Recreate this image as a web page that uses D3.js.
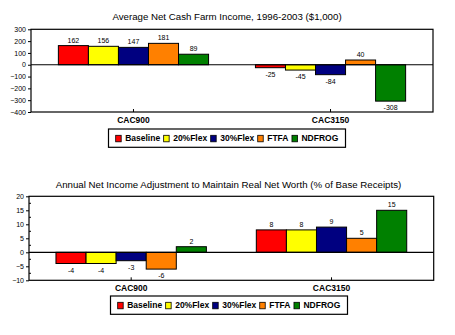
<!DOCTYPE html>
<html>
<head>
<meta charset="utf-8">
<script src="https://cdn.jsdelivr.net/npm/d3@7"></script>
<style>
  body { margin: 0; background: #fff; }
  svg { display: block; }
  text { font-family: "Liberation Sans", Arial, sans-serif; fill: #000; }
</style>
</head>
<body>
<svg id="chart" width="455" height="335"></svg>
<script>
const categories = ['CAC900', 'CAC3150'];
const series = ['Baseline', '20%Flex', '30%Flex', 'FTFA', 'NDFROG'];
const colors = ['#ff0000', '#ffff00', '#000080', '#ff8000', '#008000'];

const cashIncome = [
    [162, 156, 147, 181, 89],
    [-25, -45, -84, 40, -308]
];
const cashTicks = [300, 200, 100, 0, -100, -200, -300, -400];

const netWorthAdj = [
    [-4, -4, -3, -6, 2],
    [8, 8, 9, 5, 15]
];
const adjTicks = [20, 15, 10, 5, 0, -5, -10];

const svg = d3.select('#chart');

function drawPanel(opts) {
    const g = svg.append('g');

    const x0 = d3.scaleBand()
        .domain(categories)
        .range([opts.left, opts.right])
        .paddingInner(0)
        .paddingOuter(opts.outer);

    const x1 = d3.scaleBand()
        .domain(series)
        .range([0, x0.bandwidth()])
        .paddingInner(0)
        .paddingOuter(opts.inner);

    const y = d3.scaleLinear()
        .domain(opts.domain)
        .range([opts.bottom, opts.top]);

    // title
    g.append('text')
        .attr('x', opts.titleX)
        .attr('y', opts.titleY)
        .attr('text-anchor', 'middle')
        .style('font-size', '9.7px')
        .text(opts.title);

    // bars
    categories.forEach(function(cat, ci) {
        const grp = g.append('g')
            .attr('transform', 'translate(' + x0(cat) + ',0)');
        series.forEach(function(s, si) {
            const v = opts.data[ci][si];
            grp.append('rect')
                .attr('x', x1(s))
                .attr('y', y(Math.max(0, v)))
                .attr('width', x1.bandwidth())
                .attr('height', Math.abs(y(v) - y(0)))
                .attr('fill', colors[si])
                .attr('stroke', '#000')
                .attr('stroke-width', 1);
            grp.append('text')
                .attr('x', x1(s) + x1.bandwidth() / 2)
                .attr('y', v >= 0 ? y(v) - 3 : y(v) + 9)
                .attr('text-anchor', 'middle')
                .style('font-size', '7px')
                .text(v);
        });
    });

    // frame
    g.append('rect')
        .attr('x', opts.left)
        .attr('y', opts.top)
        .attr('width', opts.right - opts.left)
        .attr('height', opts.bottom - opts.top)
        .attr('fill', 'none')
        .attr('stroke', '#000')
        .attr('stroke-width', 1.2);

    // zero line
    g.append('line')
        .attr('x1', opts.left).attr('x2', opts.right)
        .attr('y1', y(0)).attr('y2', y(0))
        .attr('stroke', '#000')
        .attr('stroke-width', 1.2);

    // y axis
    const yAxis = g.append('g')
        .attr('transform', 'translate(' + opts.left + ',0)')
        .call(d3.axisLeft(y).tickValues(opts.ticks).tickSize(3).tickPadding(2));
    yAxis.select('.domain').remove();
    yAxis.selectAll('text').style('font-size', '7px').attr('fill', '#000');
    yAxis.selectAll('line').attr('stroke', '#000');

    if (opts.minor) {
        g.selectAll('line.minor')
            .data(opts.minor)
            .join('line')
            .classed('minor', true)
            .attr('x1', opts.left).attr('x2', opts.left + 2)
            .attr('y1', function(d) { return y(d); })
            .attr('y2', function(d) { return y(d); })
            .attr('stroke', '#000');
    }

    // x axis
    const xAxis = g.append('g')
        .attr('transform', 'translate(0,' + opts.bottom + ')')
        .call(d3.axisBottom(x0).tickSize(-3).tickPadding(5));
    xAxis.select('.domain').remove();
    xAxis.selectAll('line').attr('stroke', '#000');
    xAxis.selectAll('text')
        .style('font-size', '8.5px')
        .style('font-weight', 'bold')
        .attr('fill', '#000');

    // legend
    const lg = g.append('g');
    let cx = 0;
    const items = [];
    series.forEach(function(s, i) {
        const it = lg.append('g');
        it.append('rect')
            .attr('x', 0).attr('y', -6)
            .attr('width', 5.5).attr('height', 6.5)
            .attr('fill', colors[i])
            .attr('stroke', '#000')
            .attr('stroke-width', 0.8);
        const t = it.append('text')
            .attr('x', 9.5)
            .attr('y', 0)
            .style('font-size', '8.5px')
            .style('font-weight', 'bold')
            .text(s);
        const w = 9.5 + t.node().getComputedTextLength();
        it.attr('transform', 'translate(' + cx + ',0)');
        cx += w + 3.5;
    });
    const lw = cx - 3.5;
    const boxW = opts.legendW;
    const boxX = opts.legendX;
    lg.attr('transform', 'translate(' + (boxX + (boxW - lw) / 2) + ',' + (opts.legendY + 12.3) + ')');
    g.append('rect')
        .attr('x', boxX)
        .attr('y', opts.legendY)
        .attr('width', boxW)
        .attr('height', opts.legendH)
        .attr('fill', 'none')
        .attr('stroke', '#000')
        .attr('stroke-width', 1.2);
}

drawPanel({
    title: 'Average Net Cash Farm Income, 1996-2003 ($1,000)',
    titleX: 227, titleY: 20,
    data: cashIncome,
    domain: [-400, 300],
    ticks: cashTicks,
    left: 31, right: 433, top: 29.3, bottom: 112,
    outer: 0.02, inner: 0.78,
    legendX: 108.5, legendY: 129, legendW: 237, legendH: 18.3
});

drawPanel({
    title: 'Annual Net Income Adjustment to Maintain Real Net Worth (% of Base Receipts)',
    titleX: 228.5, titleY: 188,
    data: netWorthAdj,
    domain: [-10, 20],
    ticks: adjTicks,
    minor: [17.5, 12.5, 7.5, 2.5, -2.5, -7.5],
    left: 29, right: 433.7, top: 196.3, bottom: 280.3,
    outer: 0.01, inner: 0.83,
    legendX: 110.5, legendY: 296, legendW: 237, legendH: 18.3
});
</script>
</body>
</html>
